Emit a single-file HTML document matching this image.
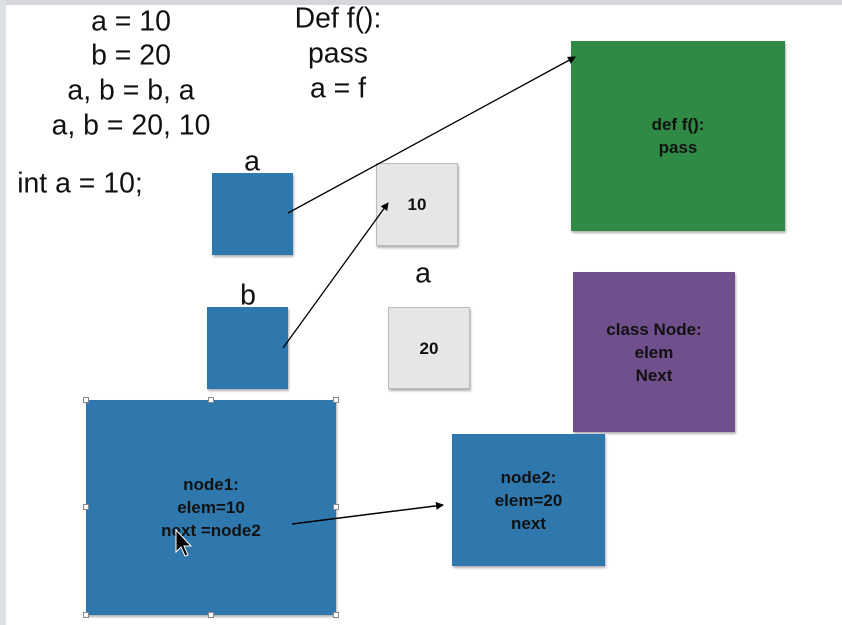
<!DOCTYPE html><html><head><style>
body{margin:0;width:842px;height:625px;background:#fff;position:relative;overflow:hidden;font-family:"Liberation Sans",sans-serif}
.t{position:absolute;font-size:29px;color:#111;white-space:nowrap;transform:translate(-50%,-50%) scaleX(0.98)}
.b{position:absolute;box-shadow:1px 2px 2px rgba(0,0,0,.3);display:flex;align-items:center;justify-content:center;text-align:center;font-weight:bold;font-size:17px;line-height:23px;color:#111}
.blue{background:#2f78ae}
.grey{background:#e6e6e6;border:1px solid #bbb;box-sizing:border-box}
.h{position:absolute;width:6px;height:6px;background:#fff;border:1px solid #888;box-sizing:border-box}
</style></head><body>
<div style="position:absolute;left:0;top:0;width:842px;height:5px;background:#d5d7da"></div>
<div style="position:absolute;left:0;top:0;width:6px;height:625px;background:#dcdfe3"></div>
<div class="t" style="left:131px;top:22px">a = 10</div>
<div class="t" style="left:131px;top:56px">b = 20</div>
<div class="t" style="left:131px;top:91px">a, b = b, a</div>
<div class="t" style="left:131px;top:126px">a, b = 20, 10</div>
<div class="t" style="left:338px;top:19px">Def f():</div>
<div class="t" style="left:338px;top:54px">pass</div>
<div class="t" style="left:338px;top:89px">a = f</div>
<div class="t" style="left:80px;top:184px">int a = 10;</div>
<div class="t" style="left:252px;top:162px">a</div>
<div class="t" style="left:248px;top:296px">b</div>
<div class="t" style="left:423px;top:274px">a</div>
<div class="b blue" style="left:212px;top:173px;width:81px;height:82px"></div>
<div class="b grey" style="left:376px;top:163px;width:82px;height:83px">10</div>
<div class="b" style="left:571px;top:41px;width:214px;height:190px;background:#2f8a45">def f():<br>pass</div>
<div class="b blue" style="left:207px;top:307px;width:81px;height:82px"></div>
<div class="b grey" style="left:388px;top:307px;width:82px;height:82px">20</div>
<div class="b" style="left:573px;top:272px;width:162px;height:160px;background:#6f4f8c">class Node:<br>elem<br>Next</div>
<div class="b blue" style="left:86px;top:400px;width:250px;height:215px">node1:<br>elem=10<br>next =node2</div>
<div class="b blue" style="left:452px;top:434px;width:153px;height:132px">node2:<br>elem=20<br>next</div>
<div class="h" style="left:83px;top:397px"></div><div class="h" style="left:208px;top:397px"></div><div class="h" style="left:333px;top:397px"></div>
<div class="h" style="left:83px;top:504px"></div><div class="h" style="left:333px;top:504px"></div>
<div class="h" style="left:83px;top:612px"></div><div class="h" style="left:208px;top:612px"></div><div class="h" style="left:333px;top:612px"></div>
<svg width="842" height="625" style="position:absolute;left:0;top:0">
<defs><marker id="m" markerWidth="8" markerHeight="8" refX="7" refY="4" orient="auto" markerUnits="userSpaceOnUse"><path d="M0,0L8,4L0,8z" fill="#000"/></marker></defs>
<line x1="288" y1="213" x2="575" y2="57" stroke="#000" stroke-width="1.3" marker-end="url(#m)"/>
<line x1="283" y1="348" x2="388" y2="203" stroke="#000" stroke-width="1.3" marker-end="url(#m)"/>
<line x1="292" y1="524" x2="443" y2="505" stroke="#000" stroke-width="1.5" marker-end="url(#m)"/>
<path d="M176,530 L176,552 L181,547 L185,556 L188,555 L184,546 L191,546 Z" fill="#000" stroke="#fff" stroke-width="1"/>
</svg>
</body></html>
